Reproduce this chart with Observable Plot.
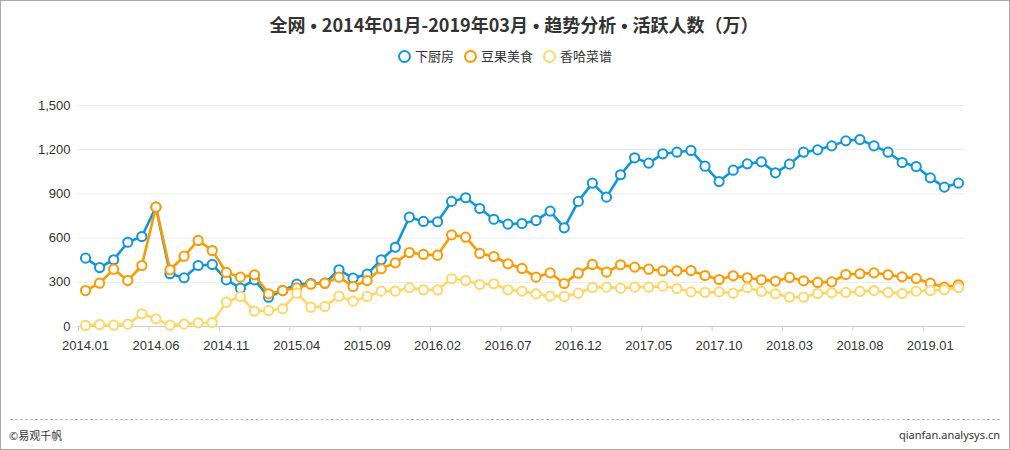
<!DOCTYPE html>
<html><head><meta charset="utf-8">
<script src="https://cdn.jsdelivr.net/npm/d3@7"></script>
<script src="https://cdn.jsdelivr.net/npm/@observablehq/plot@0.6"></script>
<style>
body{margin:0;background:#fff;}
#wrap{position:relative;width:1010px;height:450px;overflow:hidden;background:#fff;font-family:"Noto Sans CJK SC","Liberation Sans",sans-serif;color:#333}
#frame{position:absolute;left:0;top:0;right:0;bottom:0;border:1px solid #aaa;pointer-events:none}
#title{position:absolute;top:11px;left:14px;width:1000px;text-align:center;font-weight:bold;font-size:18px;color:#333;line-height:26px}
#title .b{font-family:"Liberation Sans",Arial,sans-serif}
#legend{position:absolute;top:46px;left:0;width:100%;display:flex;justify-content:center;gap:10px;font-size:13px;line-height:20px}
#legend span.item{display:flex;align-items:center;gap:4px}
#legend i{display:inline-block;width:9px;height:9px;border-radius:50%;border:2px solid #000;background:#fff}
#chart{position:absolute;left:0;top:70px}
#dash{position:absolute;left:10px;right:10px;top:419px;border-top:1px dashed #bbb}
#foot-l{position:absolute;left:9px;top:427px;font-size:11px;line-height:16px}
#foot-r{position:absolute;right:10px;top:427px;font-size:11px;line-height:16px;font-family:"Noto Sans","Liberation Sans",sans-serif}
</style></head>
<body>
<div id="wrap">
  <div id="title">全网<span class="b"> • </span>2014年01月-2019年03月<span class="b"> • </span>趋势分析<span class="b"> • </span>活跃人数（万）</div>
  <div id="legend"></div>
  <div id="chart"></div>
  <div id="dash"></div>
  <div id="foot-l">©易观千帆</div>
  <div id="foot-r">qianfan.analysys.cn</div>
  <div id="frame"></div>
</div>
<script>
const months = [
 "2014.01","2014.02","2014.03","2014.04","2014.05","2014.06","2014.07","2014.08","2014.09","2014.10","2014.11","2014.12",
 "2015.01","2015.02","2015.03","2015.04","2015.05","2015.06","2015.07","2015.08","2015.09","2015.10","2015.11","2015.12",
 "2016.01","2016.02","2016.03","2016.04","2016.05","2016.06","2016.07","2016.08","2016.09","2016.10","2016.11","2016.12",
 "2017.01","2017.02","2017.03","2017.04","2017.05","2017.06","2017.07","2017.08","2017.09","2017.10","2017.11","2017.12",
 "2018.01","2018.02","2018.03","2018.04","2018.05","2018.06","2018.07","2018.08","2018.09","2018.10","2018.11","2018.12",
 "2019.01","2019.02","2019.03"];
const xTickLabels = ["2014.01","2014.06","2014.11","2015.04","2015.09","2016.02","2016.07","2016.12","2017.05","2017.10","2018.03","2018.08","2019.01"];
const yTicks = [0,300,600,900,1200,1500];
const seriesNames = ["下厨房","豆果美食","香哈菜谱"];
const seriesColors = ["#1296db","#fd9a00","#ffd766"];
const xiachufang = [464,400,453,572,611,810,358,331,414,421,317,260,
 317,199,244,287,292,294,385,328,355,453,538,742,713,711,849,874,801,728,695,699,720,783,670,849,973,878,
 1030,1145,1109,1172,1183,1195,1088,984,1061,1104,1118,1043,1102,1183,1199,1226,1260,1269,1226,1183,1113,1086,1009,946,973];
const douguo = [244,294,389,312,414,810,385,477,584,516,367,335,
 351,222,244,263,287,294,335,272,312,392,432,502,489,484,622,606,496,475,426,394,335,364,292,362,421,369,
 419,403,389,378,378,380,346,319,344,331,317,308,333,310,299,303,353,358,364,351,337,326,294,267,283];
const xiangha = [7,14,9,16,86,52,9,16,25,27,165,204,
 104,109,120,226,131,136,206,172,204,240,240,263,249,248,324,312,285,290,249,240,222,206,204,226,265,267,
 260,267,267,274,258,235,231,235,226,263,238,222,199,199,224,229,231,238,244,231,224,240,244,249,265];
const seriesValues = [xiachufang, douguo, xiangha];

const legend = document.getElementById("legend");
seriesNames.forEach((n,k)=>{
  const s = document.createElement("span"); s.className="item";
  const i = document.createElement("i"); i.style.borderColor = seriesColors[k];
  s.appendChild(i); s.appendChild(document.createTextNode(n)); legend.appendChild(s);
});

const rows = [];
seriesValues.forEach((vals,k)=>vals.forEach((v,i)=>rows.push({series:seriesNames[k], i, v})));
const labelIdx = xTickLabels.map(l => months.indexOf(l));
const boundaries = labelIdx.map(i => i - 0.5);

const marks = [
  Plot.gridY(yTicks.filter(d=>d>0), {stroke:"#ebebeb", strokeOpacity:1}),
  Plot.axisY(yTicks, {tickSize:0, tickPadding:8, tickFormat:d3.format(","), label:null, fill:"#333"}),
  Plot.ruleY([0], {stroke:"#ccc"}),
  Plot.axisX(boundaries, {tickSize:5, tickFormat:()=>"", stroke:"#ccc", strokeOpacity:1, label:null}),
  Plot.axisX(labelIdx, {tickSize:0, tickPadding:14, tickFormat:i=>months[i], label:null, fill:"#333"})
];
seriesNames.forEach((n,k)=>{
  const d = rows.filter(r=>r.series===n);
  marks.push(Plot.line(d, {x:"i", y:"v", stroke:seriesColors[k], strokeWidth:2.6}));
  marks.push(Plot.dot(d, {x:"i", y:"v", r:4.6, stroke:seriesColors[k], strokeWidth:2, fill:"#fff"}));
});

const chart = Plot.plot({
  width:1010, height:286, marginTop:35, marginBottom:30, marginLeft:78, marginRight:45,
  x:{type:"linear", domain:[-0.5, months.length-0.5]},
  y:{domain:[0,1500]},
  style:{fontFamily:"'Liberation Sans', Arial, sans-serif", fontSize:"13px", color:"#333", background:"transparent"},
  marks
});
document.getElementById("chart").appendChild(chart);
</script>
</body></html>
